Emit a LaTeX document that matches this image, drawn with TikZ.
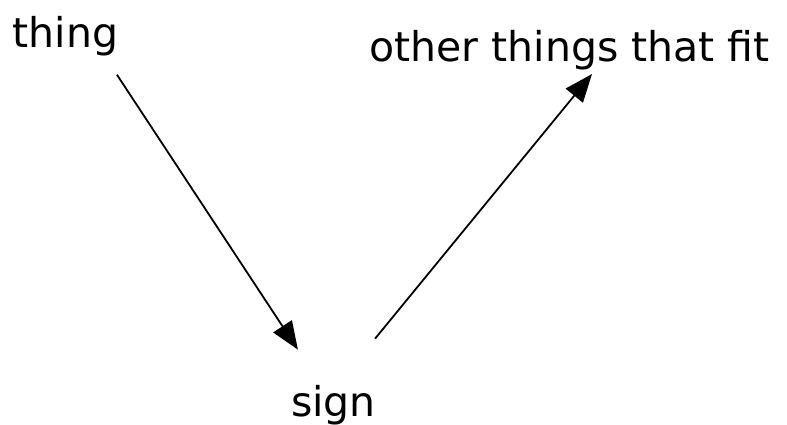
\documentclass[tikz,border=0pt]{standalone}
\usepackage{fontspec}
\setmainfont{DejaVu Sans}
\usetikzlibrary{positioning, arrows.meta}
\tikzset{
    word/.style={inner sep=0pt, anchor=base, font=\fontsize{41}{49}\selectfont},
    line/.style={-{Triangle[length=28pt, width=22pt]}, line width=1.8pt, black}
}

\begin{document}
\begin{tikzpicture}[x=1pt, y=-1pt]
    \useasboundingbox (0,0) rectangle (787,425);
    \node (thing) [word] at (65.5,48) {thing};
    \node (other) [word] at (569.5,62) {other things that fit};
    \node (sign) [word] at (333.5,416) {sign};

    \draw[line] ([xshift=-1.5pt, yshift=-18pt]thing.south east) -- ([xshift=7pt, yshift=35pt]sign.north west);
    \draw[line] ([xshift=-1pt, yshift=46pt]sign.north east) -- ([xshift=22.5pt, yshift=-3.3pt]other.south);
\end{tikzpicture}
\end{document}
